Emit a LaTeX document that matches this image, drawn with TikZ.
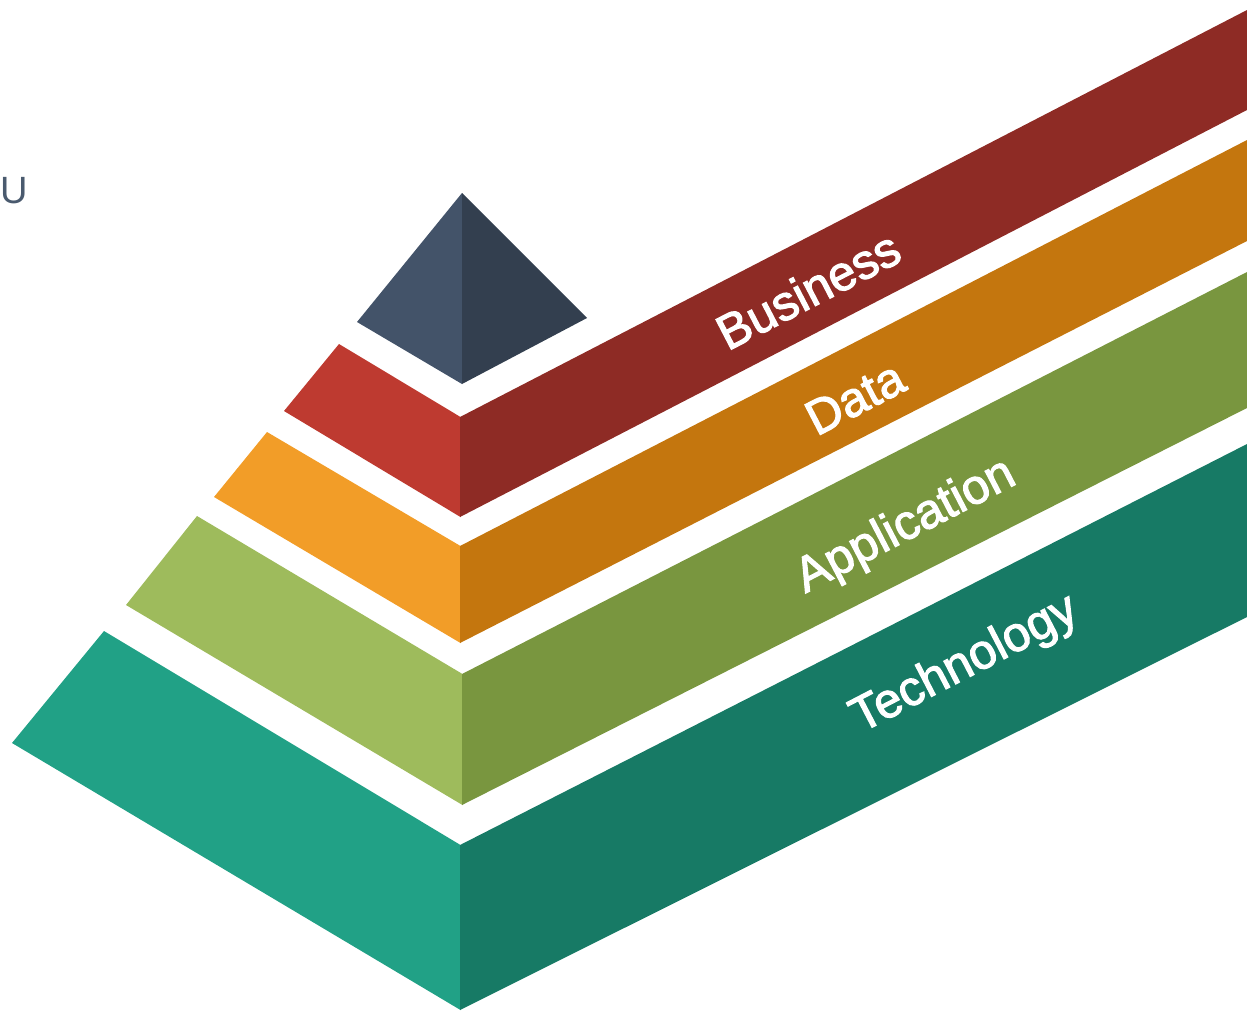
\documentclass[tikz,border=0pt]{standalone}
\usepackage{fontspec}
\setmainfont{Liberation Sans}
\newfontfamily\lblfont{Liberation Sans}[FakeBold=2.2]
\definecolor{topL}{HTML}{435369}
\definecolor{topR}{HTML}{333F4F}
\definecolor{busL}{HTML}{BE3A30}
\definecolor{busR}{HTML}{8E2B25}
\definecolor{datL}{HTML}{F29D28}
\definecolor{datR}{HTML}{C4760E}
\definecolor{appL}{HTML}{9EBB5C}
\definecolor{appR}{HTML}{79963F}
\definecolor{tecL}{HTML}{21A186}
\definecolor{tecR}{HTML}{177A65}
\definecolor{ucol}{HTML}{4A5A6E}
\tikzset{
  bandlabel/.style={text=white, inner sep=0pt, rotate=27.4,
    font=\lblfont\fontsize{49}{51}\selectfont},
}
\begin{document}
\begin{tikzpicture}[x=1pt,y=-1pt]
\useasboundingbox (0,0) rectangle (1247,1010);
% top pyramid
\fill[topL] (462,193) -- (357,322) -- (462,384) -- cycle;
\fill[topR] (462,193) -- (587,318) -- (462,384) -- cycle;
% Business
\fill[busL] (339,344) -- (460.5,417) -- (460.5,517) -- (284,411) -- cycle;
\fill[busR] (460,417) -- (1247,10) -- (1247,110) -- (460,517) -- cycle;
% Data
\fill[datL] (267,432) -- (460.5,546) -- (460.5,643) -- (214,497) -- cycle;
\fill[datR] (460,546) -- (1247,140) -- (1247,241) -- (460,643) -- cycle;
% Application
\fill[appL] (197,516) -- (462.5,674) -- (462.5,805) -- (126,605) -- cycle;
\fill[appR] (462,674) -- (1247,272) -- (1247,408) -- (462,805) -- cycle;
% Technology
\fill[tecL] (104,631) -- (460.5,845) -- (460.5,1010) -- (12,743) -- cycle;
\fill[tecR] (460,845) -- (1247,444) -- (1247,617) -- (460,1010) -- cycle;
% labels
\node[bandlabel] (business) at (808,290) {Business};
\node[bandlabel] (data) at (855,398) {Data};
\node[bandlabel] (application) at (906,527) {Application};
\node[bandlabel] (technology) at (965,665) {Technology};
\node[anchor=base west, inner sep=0pt, text=ucol, font=\fontsize{38}{40}\selectfont] (u) at (0,203) {U};
\end{tikzpicture}
\end{document}
